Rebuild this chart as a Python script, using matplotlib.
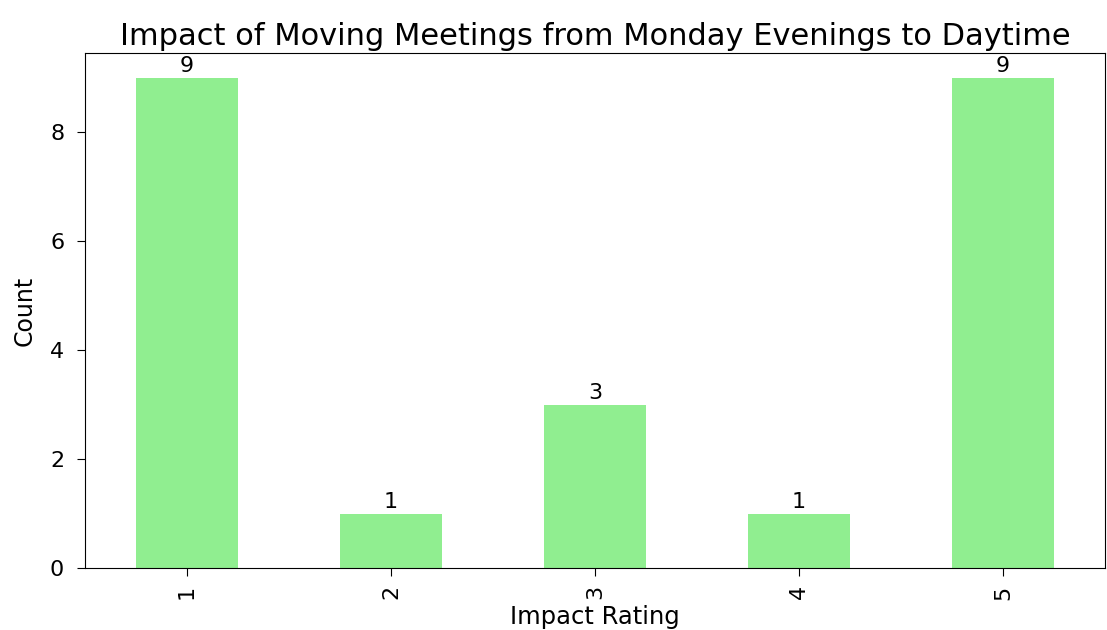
import matplotlib
matplotlib.use("Agg")
import matplotlib.pyplot as plt

categories = ["1", "2", "3", "4", "5"]
counts = [9, 1, 3, 1, 9]

fig = plt.figure(figsize=(11.07, 6.3), dpi=100)
ax = fig.add_axes([0.0768, 0.0984, 0.9214, 0.8175])
x = list(range(len(categories)))
bars = ax.bar(x, counts, width=0.5, color="lightgreen")
ax.set_xticks(x)
ax.set_xticklabels(categories, rotation=90, fontsize=16)
ax.set_xlim(-0.5, len(categories) - 0.5)
ax.tick_params(axis="y", labelsize=16, length=5.5, pad=9.5)
ax.tick_params(axis="x", length=5.5, pad=7)
for b, v in zip(bars, counts):
    ax.annotate(str(v), (b.get_x() + b.get_width() / 2, v), xytext=(0, 1),
                textcoords="offset points", ha="center", va="bottom", fontsize=16)
ax.set_title("Impact of Moving Meetings from Monday Evenings to Daytime", fontsize=22)
ax.set_xlabel("Impact Rating", fontsize=17.5, labelpad=4)
ax.set_ylabel("Count", fontsize=17, labelpad=9.5)
fig.savefig("out.png", dpi=100)
